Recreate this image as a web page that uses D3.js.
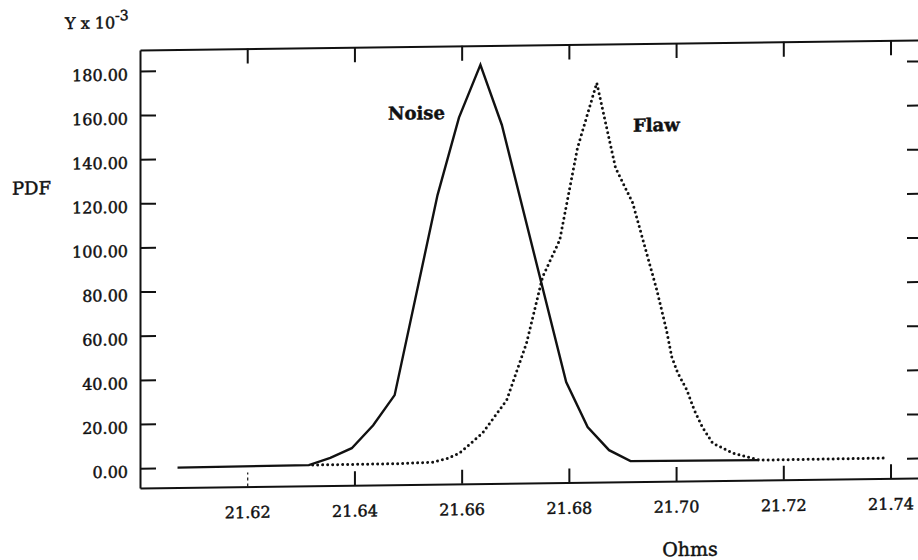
<!DOCTYPE html>
<html>
<head>
<meta charset="utf-8">
<script src="https://cdn.jsdelivr.net/npm/d3@7"></script>
<style>
  body { margin: 0; background: #fff; }
  svg { display: block; }
  text { font-family: "DejaVu Serif", serif; fill: #111; stroke: #111; stroke-width: 0.45px; }
</style>
</head>
<body>
<div class="chart"></div>
<script>
// values (PDF is in units of 1e-3)
var noiseOhms = [21.607, 21.6315, 21.6355, 21.6395, 21.6435, 21.6475, 21.6555, 21.6595, 21.6635,
    21.6675, 21.6795, 21.6835, 21.6875, 21.6915, 21.7155]
var noiseValues = [0, 0.4, 3.5, 7.8, 18.1, 31.6, 122, 157, 180.8, 153.4, 36.5, 16, 5.4, 0.3, 0]

var flawOhms = [21.6322, 21.6485, 21.6546, 21.6574, 21.6596, 21.6639, 21.6684, 21.6721, 21.6751,
    21.6783, 21.6816, 21.6852, 21.6887, 21.6919, 21.6964, 21.6982, 21.6992, 21.7003, 21.7020,
    21.7034, 21.7049, 21.7068, 21.7105, 21.7156, 21.7394]
var flawValues = [0.4, 0.5, 1.0, 2.6, 4.9, 13.9, 28.7, 54.4, 84.3, 101.0, 142.5, 171.9, 133.3,
    117.3, 77.7, 59.5, 47.2, 40, 32.2, 23, 15.3, 8.0, 3.4, 0, 0.2]

var xTicks = [21.62, 21.64, 21.66, 21.68, 21.70, 21.72, 21.74]
var yTicks = [0, 20, 40, 60, 80, 100, 120, 140, 160, 180]

var W = 918, H = 560
var margin = {left: 140, right: 920, top: 50, bottom: 488}

var svg = d3.select('.chart')
    .append('svg')
    .attr('width', W)
    .attr('height', H)

svg.append('rect').attr('width', W).attr('height', H).attr('fill', '#fff')

// the scan is slightly sheared, so the whole plot is drawn in a skewed group
var g = svg.append('g')
    .attr('transform', 'translate(' + margin.left + ',0) skewY(-0.74) translate(' + (-margin.left) + ',0)')

var x = d3.scaleLinear()
    .domain([21.60, 21.7455])
    .range([margin.left, margin.right])

var y = d3.scaleLinear()
    .domain([-9, 189.5])
    .range([margin.bottom, margin.top])

function styleAxis(sel) {
    sel.select('.domain').attr('stroke', '#111').attr('stroke-width', 2)
    sel.selectAll('.tick line').attr('stroke', '#111').attr('stroke-width', 2)
    sel.selectAll('text').attr('font-size', 16).attr('fill', '#111')
        .attr('font-family', '"DejaVu Serif", serif')
}

// bottom axis
var xAxis = d3.axisBottom(x)
    .tickValues(xTicks)
    .tickSizeInner(-14)
    .tickSizeOuter(0)
    .tickPadding(20)
    .tickFormat(d3.format('.2f'))
g.append('g')
    .attr('transform', 'translate(0,' + margin.bottom + ')')
    .call(xAxis)
    .call(styleAxis)
    .selectAll('.tick line')
    .attr('stroke-dasharray', function (d) { return d === 21.62 ? '3,3' : null })
    .attr('stroke-width', function (d) { return d === 21.62 ? 1.2 : 2 })

// top axis
g.append('g')
    .attr('transform', 'translate(0,' + margin.top + ')')
    .call(d3.axisTop(x).tickValues(xTicks).tickSizeInner(-15).tickSizeOuter(0).tickFormat(''))
    .call(styleAxis)

// left axis
var yAxis = d3.axisLeft(y)
    .tickValues(yTicks)
    .tickSizeInner(-16)
    .tickSizeOuter(0)
    .tickPadding(12)
    .tickFormat(d3.format('.2f'))
g.append('g')
    .attr('transform', 'translate(' + margin.left + ',0)')
    .call(yAxis)
    .call(styleAxis)
    .selectAll('text')
    .attr('dy', '0.55em')

// right axis
g.append('g')
    .attr('transform', 'translate(' + margin.right + ',0)')
    .call(d3.axisRight(y).tickValues(yTicks).tickSizeInner(-13).tickSizeOuter(0).tickFormat(''))
    .call(styleAxis)

var line = d3.line()
    .x(function (d) { return x(d[0]) })
    .y(function (d) { return y(d[1]) })

var noise = noiseOhms.map(function (o, i) { return [o, noiseValues[i]] })
var flaw = flawOhms.map(function (o, i) { return [o, flawValues[i]] })

g.append('path')
    .datum(noise)
    .attr('d', line)
    .attr('fill', 'none')
    .attr('stroke', '#111')
    .attr('stroke-width', 2.4)
    .attr('stroke-linejoin', 'miter')

g.append('path')
    .datum(flaw)
    .attr('d', line)
    .attr('fill', 'none')
    .attr('stroke', '#111')
    .attr('stroke-width', 3)
    .attr('stroke-linecap', 'round')
    .attr('stroke-dasharray', '0,5')

// labels
g.append('text')
    .attr('x', 388).attr('y', 123)
    .attr('font-size', 18).attr('font-weight', 'bold')
    .text('Noise')

g.append('text')
    .attr('x', 633).attr('y', 138)
    .attr('font-size', 18).attr('font-weight', 'bold')
    .text('Flaw')

g.append('text')
    .attr('x', 12).attr('y', 193)
    .attr('font-size', 18)
    .text('PDF')

var yt = g.append('text')
    .attr('x', 65).attr('y', 28)
    .attr('font-size', 16)
yt.append('tspan').text('Y x 10')
yt.append('tspan').attr('dy', -8).attr('font-size', 14).text('-3')

g.append('text')
    .attr('x', 690).attr('y', 563)
    .attr('text-anchor', 'middle')
    .attr('font-size', 19)
    .text('Ohms')
</script>
</body>
</html>
